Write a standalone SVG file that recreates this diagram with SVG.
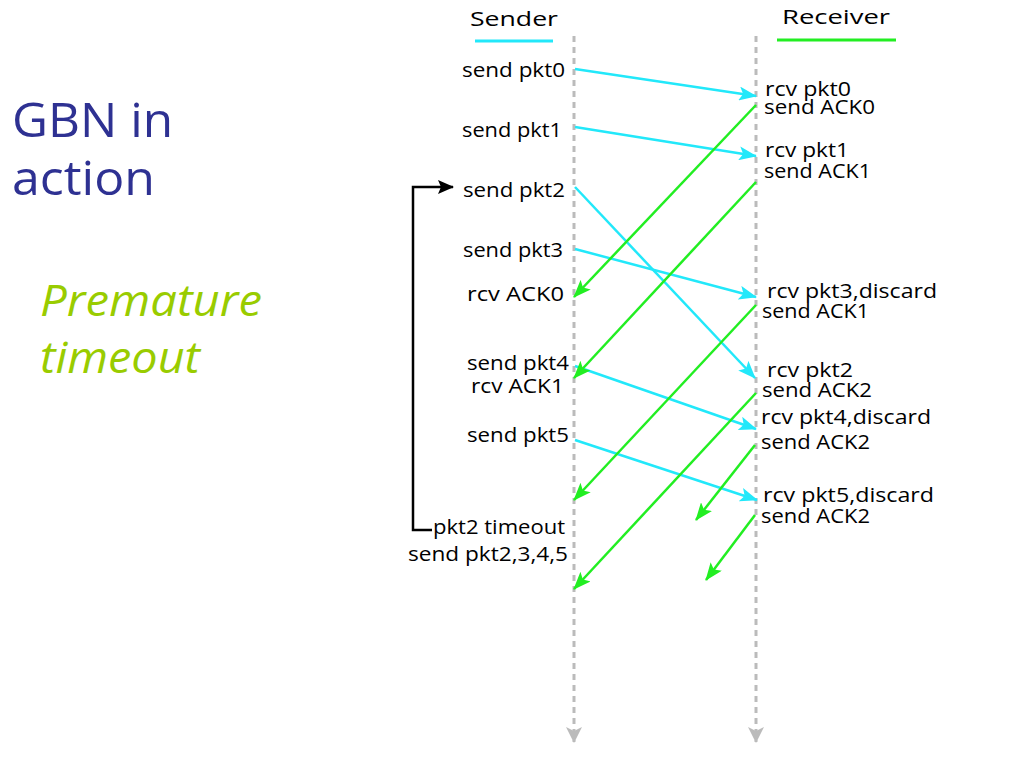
<svg xmlns="http://www.w3.org/2000/svg" width="1024" height="768" viewBox="0 0 1024 768">
<defs>
<style>
.t{font-family:"Open Sans","Liberation Sans",sans-serif;font-size:20px;fill:#000}
.e{text-anchor:end}
.cy{stroke:#22e8fa;stroke-width:2.5;fill:none}
.gr{stroke:#22ee22;stroke-width:2.5;fill:none}
.tl{stroke:#bbbbbb;stroke-width:3;stroke-dasharray:6 5;fill:none}
.big{font-family:"Open Sans","Liberation Sans",sans-serif;font-size:48px;fill:#2e3192}
.sub{font-family:"Open Sans","Liberation Sans",sans-serif;font-size:44px;font-style:italic;fill:#99cc00}
</style>
<marker id="ac" viewBox="0 0 18 14" refX="17" refY="7" markerWidth="18" markerHeight="14" markerUnits="userSpaceOnUse" orient="auto"><path d="M0,0 L18,7 L0,14 L4,7 z" fill="#22e8fa"/></marker>
<marker id="ag" viewBox="0 0 18 14" refX="17" refY="7" markerWidth="18" markerHeight="14" markerUnits="userSpaceOnUse" orient="auto"><path d="M0,0 L18,7 L0,14 L4,7 z" fill="#22ee22"/></marker>
<marker id="ak" viewBox="0 0 16 14" refX="15" refY="7" markerWidth="16" markerHeight="14" markerUnits="userSpaceOnUse" orient="auto"><path d="M0,0 L16,7 L0,14 L3,7 z" fill="#000"/></marker>
<marker id="ay" viewBox="0 0 16 16" refX="8" refY="15" markerWidth="16" markerHeight="16" markerUnits="userSpaceOnUse" orient="0"><path d="M0,0 L8,4 L16,0 L8,16 z" fill="#bbbbbb"/></marker>
</defs>

<g id="title">
<text class="big" x="12" y="137" textLength="161" lengthAdjust="spacingAndGlyphs">GBN in</text>
<text class="big" x="12" y="195" textLength="143" lengthAdjust="spacingAndGlyphs">action</text>
</g>
<g id="subtitle">
<text class="sub" x="40" y="316" textLength="222" lengthAdjust="spacingAndGlyphs">Premature</text>
<text class="sub" x="40" y="373" textLength="160" lengthAdjust="spacingAndGlyphs">timeout</text>
</g>

<g id="sender">
<text class="t" x="470" y="26" textLength="88" lengthAdjust="spacingAndGlyphs">Sender</text>
<line x1="475" y1="41" x2="553" y2="41" stroke="#22e8fa" stroke-width="3"/>
<line class="tl" x1="574" y1="36" x2="574" y2="742" marker-end="url(#ay)"/>
</g>
<g id="receiver">
<text class="t" x="782" y="24" textLength="108" lengthAdjust="spacingAndGlyphs">Receiver</text>
<line x1="777" y1="40" x2="896" y2="40" stroke="#22ee22" stroke-width="3"/>
<line class="tl" x1="756" y1="36" x2="756" y2="742" marker-end="url(#ay)"/>
</g>

<g id="sender-labels">
<text class="t" x="462" y="77" textLength="103" lengthAdjust="spacingAndGlyphs">send pkt0</text>
<text class="t" x="462" y="137" textLength="100" lengthAdjust="spacingAndGlyphs">send pkt1</text>
<text class="t" x="463" y="197" textLength="102" lengthAdjust="spacingAndGlyphs">send pkt2</text>
<text class="t" x="463" y="257" textLength="100" lengthAdjust="spacingAndGlyphs">send pkt3</text>
<text class="t" x="467" y="301" textLength="97" lengthAdjust="spacingAndGlyphs">rcv ACK0</text>
<text class="t" x="467" y="370" textLength="102" lengthAdjust="spacingAndGlyphs">send pkt4</text>
<text class="t" x="471" y="393" textLength="93" lengthAdjust="spacingAndGlyphs">rcv ACK1</text>
<text class="t" x="467" y="442" textLength="102" lengthAdjust="spacingAndGlyphs">send pkt5</text>
<text class="t" x="433" y="534" textLength="132" lengthAdjust="spacingAndGlyphs">pkt2 timeout</text>
<text class="t" x="408" y="561" textLength="160" lengthAdjust="spacingAndGlyphs">send pkt2,3,4,5</text>
</g>

<g id="receiver-labels">
<text class="t" x="765" y="96" textLength="86" lengthAdjust="spacingAndGlyphs">rcv pkt0</text>
<text class="t" x="764" y="114" textLength="111" lengthAdjust="spacingAndGlyphs">send ACK0</text>
<text class="t" x="765" y="157" textLength="84" lengthAdjust="spacingAndGlyphs">rcv pkt1</text>
<text class="t" x="764" y="178" textLength="107" lengthAdjust="spacingAndGlyphs">send ACK1</text>
<text class="t" x="767" y="298" textLength="170" lengthAdjust="spacingAndGlyphs">rcv pkt3,discard</text>
<text class="t" x="762" y="318" textLength="107" lengthAdjust="spacingAndGlyphs">send ACK1</text>
<text class="t" x="767" y="377" textLength="86" lengthAdjust="spacingAndGlyphs">rcv pkt2</text>
<text class="t" x="762" y="397" textLength="110" lengthAdjust="spacingAndGlyphs">send ACK2</text>
<text class="t" x="761" y="424" textLength="170" lengthAdjust="spacingAndGlyphs">rcv pkt4,discard</text>
<text class="t" x="761" y="449" textLength="109" lengthAdjust="spacingAndGlyphs">send ACK2</text>
<text class="t" x="763" y="502" textLength="171" lengthAdjust="spacingAndGlyphs">rcv pkt5,discard</text>
<text class="t" x="761" y="523" textLength="109" lengthAdjust="spacingAndGlyphs">send ACK2</text>
</g>

<g id="connectors">
<line class="cy" x1="575" y1="69" x2="756" y2="96" marker-end="url(#ac)"/>
<line class="cy" x1="575" y1="127" x2="756" y2="156" marker-end="url(#ac)"/>
<line class="cy" x1="575" y1="187" x2="755" y2="378" marker-end="url(#ac)"/>
<line class="cy" x1="575" y1="249" x2="756" y2="297" marker-end="url(#ac)"/>
<line class="cy" x1="575" y1="366" x2="756" y2="429" marker-end="url(#ac)"/>
<line class="cy" x1="575" y1="440" x2="757" y2="500" marker-end="url(#ac)"/>

<line class="gr" x1="756" y1="105" x2="574" y2="297" marker-end="url(#ag)"/>
<line class="gr" x1="756" y1="182" x2="574" y2="378" marker-end="url(#ag)"/>
<line class="gr" x1="756" y1="305" x2="574" y2="500" marker-end="url(#ag)"/>
<line class="gr" x1="756" y1="393" x2="574" y2="589" marker-end="url(#ag)"/>
<line class="gr" x1="755" y1="445" x2="696" y2="520" marker-end="url(#ag)"/>
<line class="gr" x1="755" y1="515" x2="706" y2="580" marker-end="url(#ag)"/>

<path d="M432,530 H413 V187 H453" stroke="#000" stroke-width="2.5" fill="none" marker-end="url(#ak)"/>
</g>
</svg>
